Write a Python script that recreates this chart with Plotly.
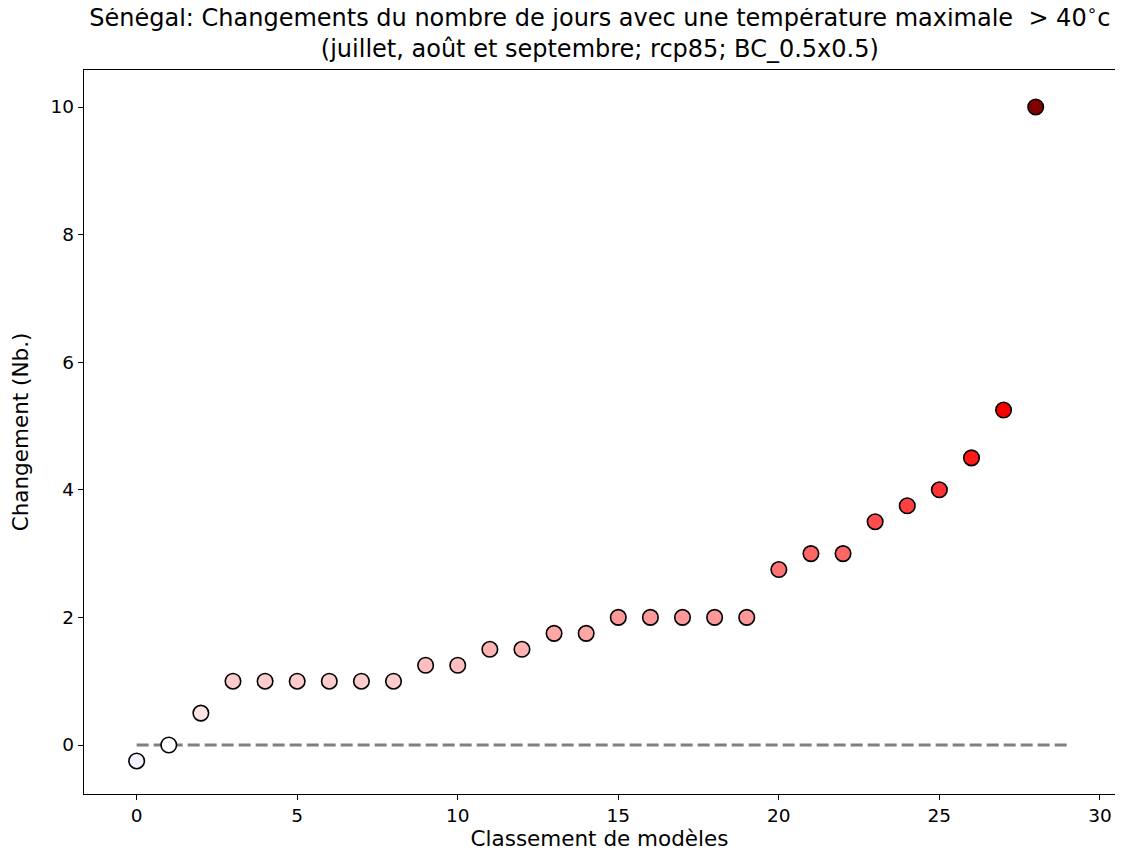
import plotly.graph_objects as go

rank = list(range(29))
change = [-0.25, 0, 0.5, 1, 1, 1, 1, 1, 1, 1.25, 1.25, 1.5, 1.5, 1.75, 1.75,
          2, 2, 2, 2, 2, 2.75, 3, 3, 3.5, 3.75, 4, 4.5, 5.25, 10]
zero_x = [0, 29]
zero_y = [0, 0]

seismic = [[0.0, "rgb(0,0,77)"], [0.25, "rgb(0,0,255)"], [0.5, "rgb(255,255,255)"],
           [0.75, "rgb(255,0,0)"], [1.0, "rgb(128,0,0)"]]

fig = go.Figure()
fig.add_trace(go.Scatter(x=zero_x, y=zero_y, mode="lines",
                         line=dict(color="grey", width=2.8, dash="12px,5px"),
                         showlegend=False, hoverinfo="skip"))
fig.add_trace(go.Scatter(x=rank, y=change, mode="markers",
                         marker=dict(size=15.5, color=change, colorscale=seismic,
                                     cmin=-10, cmax=10,
                                     line=dict(color="black", width=1.6)),
                         showlegend=False))

font = "DejaVu Sans"
fig.update_layout(
    width=1123, height=861,
    margin=dict(l=76, r=16, t=62, b=75, autoexpand=False),
    paper_bgcolor="white", plot_bgcolor="white",
    font=dict(family=font, size=18.5, color="black"),
    title=dict(text="Sénégal: Changements du nombre de jours avec une température maximale  > 40<sup>∘</sup>c<br>(juillet, août et septembre; rcp85; BC_0.5x0.5)",
               x=0.527, xanchor="center", y=0.979, yanchor="top",
               font=dict(family=font, size=24)),
    xaxis=dict(range=[-1.64, 30.47], tickmode="array", tickvals=[0, 5, 10, 15, 20, 25, 30],
               showgrid=False, zeroline=False, showline=True, linecolor="black", linewidth=1.3,
               mirror=True, ticks="outside", ticklen=5, tickwidth=1.2, tickcolor="black",
               automargin=False,
               title=dict(text="Classement de modèles", standoff=4, font=dict(size=21.5))),
    yaxis=dict(range=[-0.768, 10.58], tickmode="array", tickvals=[0, 2, 4, 6, 8, 10],
               showgrid=False, zeroline=False, showline=True, linecolor="black", linewidth=1.3,
               mirror=True, ticks="outside", ticklen=5, tickwidth=1.2, tickcolor="black",
               automargin=False,
               title=dict(text="Changement (Nb.)", standoff=25, font=dict(size=21.5))),
)

fig.write_html("out.html")
